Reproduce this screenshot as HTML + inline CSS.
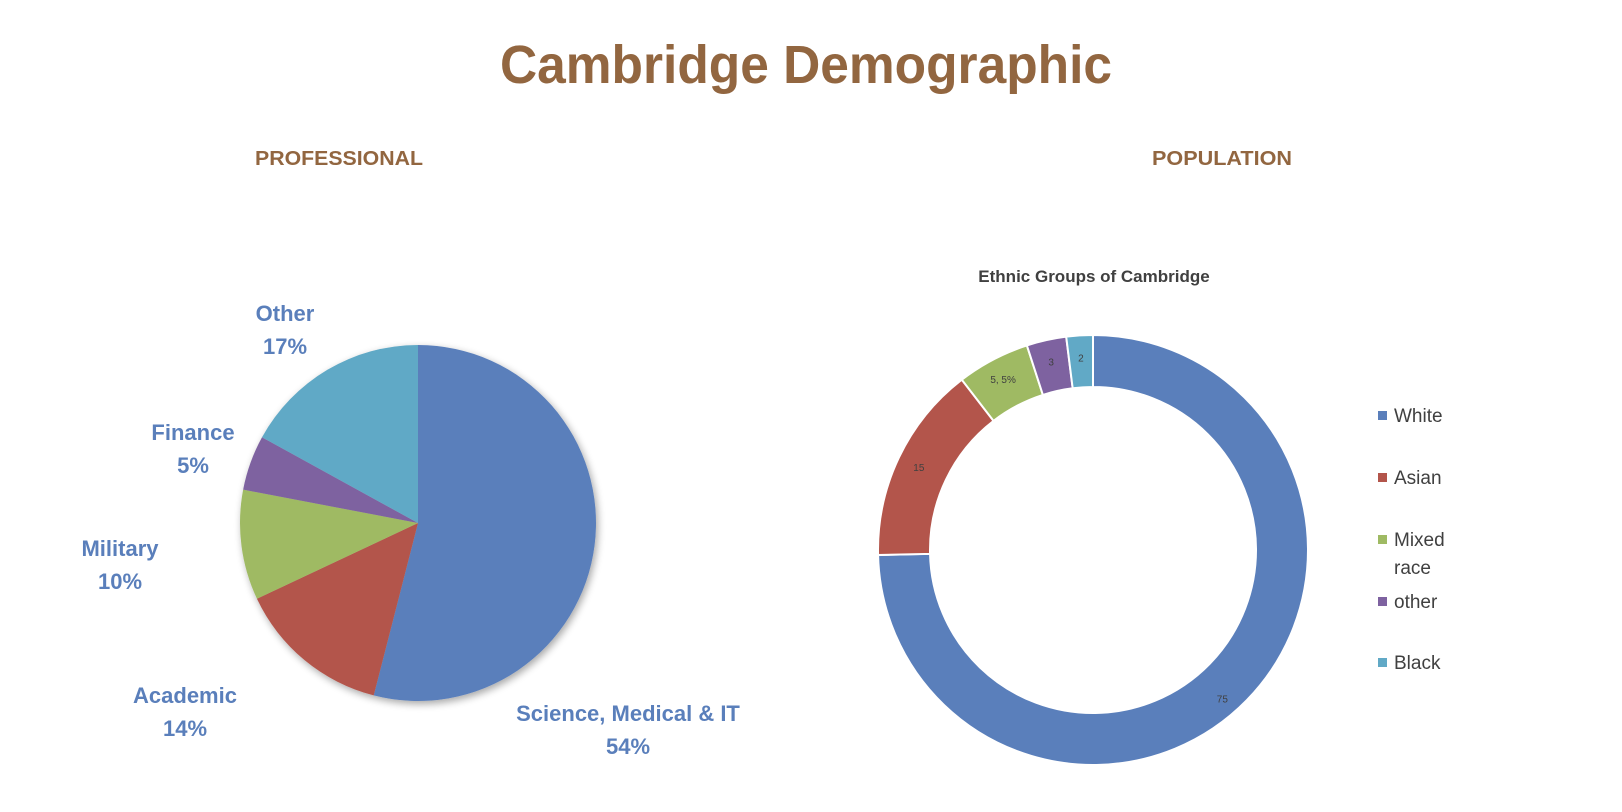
<!DOCTYPE html>
<html><head><meta charset="utf-8"><style>
html,body{margin:0;padding:0;background:#fff;}
svg{display:block;font-family:"Liberation Sans",sans-serif;}
</style></head><body>
<svg id="s" width="1622" height="812" viewBox="0 0 1622 812">
<defs><filter id="sh" x="-20%" y="-20%" width="140%" height="140%"><feGaussianBlur in="SourceAlpha" stdDeviation="4"/><feOffset dx="2" dy="3"/><feComponentTransfer><feFuncA type="linear" slope="0.35"/></feComponentTransfer><feMerge><feMergeNode/><feMergeNode in="SourceGraphic"/></feMerge></filter></defs>
<text x="806" y="83" text-anchor="middle" font-size="54" font-weight="bold" fill="#926640" textLength="612" lengthAdjust="spacingAndGlyphs">Cambridge Demographic</text>
<text x="339" y="165" text-anchor="middle" font-size="20" font-weight="bold" fill="#926640" textLength="168" lengthAdjust="spacingAndGlyphs">PROFESSIONAL</text>
<text x="1222" y="165" text-anchor="middle" font-size="20" font-weight="bold" fill="#926640" textLength="140" lengthAdjust="spacingAndGlyphs">POPULATION</text>
<g id="pie" filter="url(#sh)"></g>
<g id="pieLabels"></g>
<text x="1094" y="282" text-anchor="middle" font-size="17" font-weight="bold" fill="#404040">Ethnic Groups of Cambridge</text>
<g id="donut"></g>
<g id="legend"></g>
</svg>
<script>
const pieCats=["Science, Medical & IT","Academic","Military","Finance","Other"];
const pieVals=[54,14,10,5,17];
const pieColors=["#5a7fbb","#b3554b","#9fba63","#7e62a0","#61a9c6"];
const pieLabelPos=[[628,713],[185,695],[120,548],[193,432],[285,313]];
const donutCats=["White","Asian","Mixed race","other","Black"];
const donutVals=[75,15,5.5,3,2];
const donutLabels=["75","15","5, 5%","3","2"];
const NS="http://www.w3.org/2000/svg";
function mk(t,a){const e=document.createElementNS(NS,t);for(const k in a)e.setAttribute(k,a[k]);return e;}
function pt(cx,cy,r,f){const a=f*2*Math.PI-Math.PI/2;return [cx+r*Math.cos(a),cy+r*Math.sin(a)];}
// pie
(function(){
const cx=418,cy=523,r=178,tot=pieVals.reduce((a,b)=>a+b,0);let acc=0;
const g=document.getElementById('pie'),lg=document.getElementById('pieLabels');
pieVals.forEach((v,i)=>{
const f0=acc/tot,f1=(acc+v)/tot;acc+=v;
const p0=pt(cx,cy,r,f0),p1=pt(cx,cy,r,f1);
const p=mk('path',{d:`M${cx},${cy}L${p0[0]},${p0[1]}A${r},${r} 0 ${f1-f0>0.5?1:0} 1 ${p1[0]},${p1[1]}Z`,fill:pieColors[i]});


g.appendChild(p);
const [x,y]=pieLabelPos[i];
const t=mk('text',{x:x,y:y+8,'text-anchor':'middle','font-size':22,'font-weight':'bold',fill:'#5a7fbb'});
t.textContent=pieCats[i];


lg.appendChild(t);
const t2=mk('text',{x:x,y:y+41,'text-anchor':'middle','font-size':22,'font-weight':'bold',fill:'#5a7fbb'});
t2.textContent=Math.round(v/tot*100)+'%';


lg.appendChild(t2);
});
})();
// donut
(function(){
const cx=1093,cy=550,R=215,ri=163,tot=donutVals.reduce((a,b)=>a+b,0);let acc=0;
const g=document.getElementById('donut');
donutVals.forEach((v,i)=>{
const f0=acc/tot,f1=(acc+v)/tot;acc+=v;
const a0=pt(cx,cy,R,f0),a1=pt(cx,cy,R,f1),b1=pt(cx,cy,ri,f1),b0=pt(cx,cy,ri,f0);
const lf=f1-f0>0.5?1:0;
const p=mk('path',{d:`M${a0[0]},${a0[1]}A${R},${R} 0 ${lf} 1 ${a1[0]},${a1[1]}L${b1[0]},${b1[1]}A${ri},${ri} 0 ${lf} 0 ${b0[0]},${b0[1]}Z`,fill:pieColors[i],stroke:'#fff','stroke-width':2});


g.appendChild(p);
const fm=(f0+f1)/2,lr=(i==0)?(R+ri)/2+8:(R+ri)/2+4;
const lp=pt(cx,cy,lr,i==0?0.386:fm);
const t=mk('text',{x:lp[0],y:lp[1]+4,'text-anchor':'middle','font-size':10,fill:'#404040'});
t.textContent=donutLabels[i];


g.appendChild(t);
});
const lg=document.getElementById('legend');
const ys=[423,485,547,609,670];
donutCats.forEach((c,i)=>{
const r=mk('rect',{x:1378,y:ys[i]-12,width:9,height:9,fill:pieColors[i]});


lg.appendChild(r);
const t=mk('text',{x:1394,y:ys[i]-1,'font-size':19,fill:'#404040'});


const parts=c=="Mixed race"?["Mixed","race"]:[c];
parts.forEach((s,j)=>{const ts=mk('tspan',{x:1394,dy:j?28:0});ts.textContent=s;t.appendChild(ts);});
lg.appendChild(t);
});
})();
</script>
</body></html>
